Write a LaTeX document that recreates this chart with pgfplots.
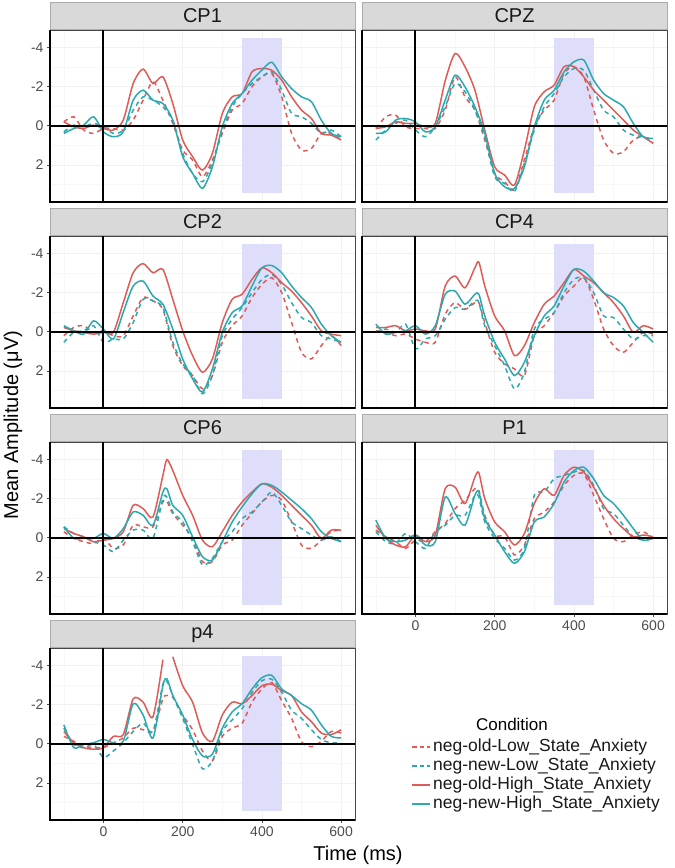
\documentclass[border=0pt]{standalone}
\usepackage{fontspec}
\setmainfont{Liberation Sans}
\usepackage{pgfplots}
\usepackage{pgfplotstable}
\pgfplotsset{compat=1.18}

\definecolor{oldc}{HTML}{DE5B57}
\definecolor{newc}{HTML}{2BA9AE}
\definecolor{win}{HTML}{DEDEFB}
\definecolor{stripc}{HTML}{D9D9D9}
\definecolor{ticklab}{HTML}{4D4D4D}

% columns: t = time (ms); oL/nL = neg-old/new Low state anxiety; oH/nH = High
\pgfplotstableread{
t oL nL oH nH
-100 -0.20 0.31 -0.20 0.39
-75 -0.46 -0.03 0.05 0.14
-50 0.22 0.05 0.14 -0.03
-25 0.39 -0.12 -0.03 -0.46
0 0.14 0.05 0.14 0.31
25 0.14 0.39 0.22 0.56
50 0.22 0.22 -0.29 0.31
75 -0.29 -0.80 -2.16 -1.31
100 -1.31 -1.48 -2.90 -1.82
125 -2.25 -1.31 -2.16 -1.31
150 -1.31 -0.97 -2.50 -1.14
175 -0.12 -0.29 -1.14 -0.29
200 1.24 1.41 0.73 1.58
225 1.75 2.44 1.58 2.44
250 2.61 2.86 2.27 3.20
275 1.75 1.92 1.41 2.10
300 0.39 0.22 -0.63 0.05
325 -0.80 -0.97 -1.48 -1.14
350 -1.14 -1.65 -1.65 -1.65
375 -2.00 -2.16 -2.76 -2.33
400 -2.50 -2.50 -2.93 -2.85
425 -2.67 -2.76 -2.84 -3.25
450 -1.48 -1.82 -2.33 -2.50
475 0.39 -0.63 -1.48 -1.90
500 1.24 -0.46 -0.80 -1.48
525 1.16 -0.12 -0.37 -1.23
550 0.39 0.39 0.39 -0.29
575 0.39 0.22 0.48 0.39
600 0.73 0.56 0.73 0.56
}\cpone

\pgfplotstableread{
t oL nL oH nH
-100 0.14 0.73 0.14 0.39
-75 -0.46 0.22 0.05 0.31
-50 -0.55 -0.12 -0.20 -0.29
-25 0.05 -0.29 -0.12 -0.37
0 0.14 0.22 -0.12 -0.20
25 0.14 0.56 0.05 0.31
50 0.14 0.05 -0.12 0.05
75 -0.80 -0.97 -2.30 -1.31
100 -2.50 -2.16 -3.70 -2.59
125 -1.48 -1.74 -3.02 -1.99
150 -0.80 -0.80 -1.82 -0.97
175 0.73 0.56 0.22 0.39
200 2.44 2.61 2.10 2.44
225 2.86 2.95 2.52 3.12
250 3.29 3.37 3.03 3.20
275 1.75 1.92 1.24 2.10
300 0.05 0.22 -0.97 0.05
325 -0.80 -0.97 -1.74 -1.31
350 -1.31 -1.65 -2.08 -1.82
375 -2.67 -2.50 -3.02 -2.76
400 -3.02 -2.93 -3.02 -3.27
425 -2.50 -2.84 -2.50 -3.36
450 -0.80 -1.82 -1.82 -2.33
475 0.73 -0.80 -1.31 -1.65
500 1.41 -0.46 -0.80 -1.31
525 1.33 0.22 -0.29 -0.97
550 0.73 0.48 0.22 -0.12
575 0.56 0.56 0.56 0.56
600 0.90 0.73 0.90 0.65
}\cpz

\pgfplotstableread{
t oL nL oH nH
-100 0.20 0.54 -0.22 -0.31
-75 -0.22 0.03 -0.05 -0.05
-50 -0.31 -0.05 0.03 0.12
-25 0.03 -0.31 0.12 -0.56
0 -0.05 0.54 0.03 -0.14
25 0.20 0.37 0.03 0.37
50 0.20 0.37 -1.49 -1.00
75 -0.81 -0.47 -3.02 -2.34
100 -1.75 -1.66 -3.49 -2.59
125 -1.58 -1.58 -3.02 -1.83
150 -1.15 -1.24 -3.19 -1.41
175 0.71 0.54 -1.66 -0.14
200 1.73 1.64 -0.05 1.39
225 2.24 2.24 1.22 2.41
250 2.92 3.17 2.07 3.08
275 2.24 2.24 1.39 1.90
300 0.54 0.20 -0.47 0.03
325 -0.31 -0.64 -1.66 -0.98
350 -0.81 -1.24 -1.92 -1.32
375 -1.75 -2.00 -2.68 -2.34
400 -2.42 -2.68 -3.27 -3.27
425 -2.76 -2.93 -3.02 -3.39
450 -2.00 -2.42 -2.51 -3.02
475 -0.47 -1.49 -2.08 -2.34
500 1.05 -0.73 -1.49 -1.75
525 1.39 -0.47 -0.81 -1.24
550 0.71 0.20 -0.05 -0.39
575 0.20 0.37 0.12 0.20
600 0.71 0.54 0.20 0.54
}\cptwo

\pgfplotstableread{
t oL nL oH nH
-100 -0.05 0.03 -0.22 -0.39
-75 0.03 -0.14 -0.22 0.12
-50 0.20 0.03 -0.31 0.03
-25 0.12 -0.39 -0.05 -0.05
0 0.37 0.88 -0.14 -0.31
25 0.54 0.37 -0.05 0.12
50 0.54 0.20 -0.14 -0.31
75 -0.90 -0.64 -2.34 -1.92
100 -1.49 -1.24 -2.85 -2.08
125 -1.15 -1.15 -2.25 -1.41
150 -1.49 -1.58 -3.27 -1.92
160 -1.49 -1.50 -3.56 -1.92
175 -0.47 -0.30 -2.34 -0.81
200 1.05 0.71 -0.81 0.54
225 1.64 1.73 -0.05 1.39
250 1.90 2.92 1.22 2.24
275 2.24 2.07 0.71 1.56
300 0.20 -0.14 -0.47 0.20
325 -0.31 -0.64 -1.41 -0.81
350 -0.98 -0.98 -1.83 -1.32
375 -1.83 -2.00 -2.51 -2.34
400 -2.34 -2.68 -3.19 -3.19
425 -2.76 -2.76 -2.85 -3.10
450 -1.66 -2.00 -2.51 -2.59
475 -0.14 -0.81 -2.00 -2.00
500 0.71 -0.73 -1.49 -1.75
525 1.05 -0.14 -0.81 -1.32
550 0.54 0.37 0.03 -0.47
575 0.03 0.20 -0.31 0.03
600 0.12 0.20 -0.14 0.54
}\cpfour

\pgfplotstableread{
t oL nL oH nH
-100 -0.31 -0.56 -0.47 -0.56
-75 0.03 -0.22 -0.22 0.03
-50 0.20 -0.05 -0.05 0.03
-25 0.29 0.20 0.20 0.03
0 0.03 0.37 0.12 -0.22
25 0.54 0.71 0.03 0.03
50 0.37 0.12 -0.31 -0.47
75 -0.64 -0.39 -1.66 -1.32
100 -0.56 -0.39 -1.49 -1.15
125 -0.56 0.03 -1.07 -0.64
150 -1.83 -2.00 -3.19 -2.34
160 -1.86 -2.08 -4.00 -2.51
175 -1.24 -1.32 -3.44 -1.66
200 -0.64 -0.81 -2.17 -1.15
225 0.03 0.20 -1.15 -0.05
250 1.22 1.39 0.12 0.97
275 1.22 1.05 0.46 1.14
300 0.37 0.20 -0.31 0.20
325 0.12 -0.31 -1.15 -0.81
350 -0.64 -0.98 -1.83 -1.58
375 -1.24 -1.32 -2.34 -2.25
400 -1.83 -1.83 -2.76 -2.76
425 -2.17 -2.34 -2.59 -2.68
450 -1.92 -1.66 -2.17 -2.34
475 -0.81 -0.81 -1.66 -1.92
500 0.37 -0.47 -1.15 -1.49
525 0.54 -0.14 -0.64 -0.98
550 0.12 0.12 0.03 -0.31
575 -0.31 -0.05 -0.39 0.03
600 -0.39 0.20 -0.39 0.20
}\cpsix

\pgfplotstableread{
t oL nL oH nH
-100 -0.39 -0.31 -0.64 -0.90
-75 -0.05 0.20 0.03 0.03
-50 0.20 0.29 0.37 0.20
-25 0.54 -0.22 0.46 0.12
0 0.12 0.20 -0.14 -0.14
25 0.20 0.54 0.20 0.37
50 -0.31 -0.31 -0.14 0.20
75 -0.73 -0.64 -2.51 -2.08
100 -1.49 -1.15 -2.59 -1.24
125 -1.92 -1.15 -1.75 -0.64
150 -2.51 -2.17 -3.10 -2.17
160 -2.42 -2.08 -3.32 -2.34
175 -1.15 -0.81 -2.00 -0.98
200 -0.14 0.03 -0.81 -0.14
225 -0.05 0.54 -0.31 0.71
250 0.88 1.14 0.37 1.31
275 0.37 0.54 -0.22 0.71
300 -0.98 -2.17 -1.75 -0.81
325 -1.32 -2.34 -2.51 -1.07
350 -1.83 -3.02 -2.17 -1.75
375 -2.68 -3.19 -3.19 -2.85
400 -3.19 -3.36 -3.61 -3.44
425 -3.27 -3.44 -3.36 -3.61
450 -2.17 -2.68 -2.59 -3.02
475 -0.98 -1.49 -1.66 -2.17
500 0.03 -1.24 -0.98 -1.75
525 0.20 -0.64 -0.47 -1.15
550 -0.14 -0.05 -0.05 -0.47
575 -0.31 0.12 -0.14 0.12
600 0.03 0.03 -0.05 0.03
}\pone

\pgfplotstableread{
t oL nL oH nH
-100 -0.38 -0.80 -0.63 -0.97
-75 -0.13 0.03 -0.05 0.20
-50 0.12 0.20 0.20 0.03
-25 0.20 0.03 0.28 -0.05
0 0.20 0.70 0.20 -0.22
25 -0.05 0.37 -0.38 -0.05
50 -0.30 -0.05 -0.47 -0.13
75 -0.80 -0.63 -2.30 -2.05
100 -0.72 -1.05 -2.13 -1.47
125 -0.63 -0.63 -1.38 -0.30
150 -2.30 -3.05 -4.30 -2.97
160 -2.47 -3.20 nan -3.33
175 -2.38 -2.47 -4.45 -2.47
200 -1.47 -1.30 -2.97 -1.47
225 -0.72 0.03 -2.13 -0.22
250 0.37 1.28 -0.55 0.62
275 0.87 0.87 -0.13 0.53
300 -0.38 -0.63 -1.47 -0.80
325 -0.80 -1.22 -2.13 -1.63
350 -1.05 -1.80 -2.05 -2.05
375 -2.13 -2.63 -2.47 -2.80
400 -2.80 -3.22 -2.97 -3.38
425 -3.13 -3.30 -3.05 -3.50
450 -2.20 -2.63 -2.72 -2.80
475 -1.30 -1.72 -2.47 -2.47
500 -0.10 -1.30 -1.63 -2.05
525 0.15 -0.72 -1.13 -1.72
550 -0.13 -0.22 -0.55 -0.97
575 -0.63 -0.05 -0.47 -0.38
600 -0.55 -0.05 -0.72 -0.30
}\pfour

\pgfplotsset{
  erp/.style={
    scale only axis, width=305pt, height=172pt,
    anchor=south west, clip=false,
    xmin=-135, xmax=635, ymin=-4.9, ymax=3.9, y dir=reverse,
    unbounded coords=jump,
    xtick={0,200,400,600}, ytick={-4,-2,0,2},
    minor xtick={-100,100,300,500}, minor ytick={-3,-1,1,3},
    xmajorgrids, ymajorgrids, xminorgrids, yminorgrids,
    major grid style={draw=gray!11, line width=0.6pt},
    minor grid style={draw=gray!6, line width=0.4pt},
    axis line style={draw=gray!55!black, line width=0.5pt},
    tick pos=left, tick align=outside,
    major tick length=3pt, minor tick length=0pt,
    tick style={draw=gray!60!black, line width=0.6pt},
    ticklabel style={font=\fontsize{14}{14}\selectfont, text=ticklab},
    xticklabels={}, yticklabels={},
  },
  leftcol/.style={yticklabels={-4,-2,0,2}},
  rightcol/.style={ytick style={draw=none}},
  bottomrow/.style={xticklabels={0,200,400,600}},
  upperrow/.style={xtick style={draw=none}},
  oL/.style={draw=oldc, line width=1.5pt, dash pattern=on 4.5pt off 4pt, mark=none, smooth, tension=0.45},
  nL/.style={draw=newc, line width=1.5pt, dash pattern=on 4.5pt off 4pt, mark=none, smooth, tension=0.45},
  oH/.style={draw=oldc, line width=1.5pt, solid, mark=none, smooth, tension=0.45},
  nH/.style={draw=newc, line width=1.5pt, solid, mark=none, smooth, tension=0.45},
}

% #1 x, #2 y of lower left corner, #3 table, #4 extra axis options
\newcommand{\erppanel}[4]{%
  \begin{axis}[erp, at={(#1pt,#2pt)}, #4]
    \fill[win] (axis cs:350,-4.5) rectangle (axis cs:450,3.45);
    \addplot[oL] table[x=t, y=oL] {#3};
    \addplot[nL] table[x=t, y=nL] {#3};
    \addplot[oH] table[x=t, y=oH] {#3};
    \addplot[nH] table[x=t, y=nH] {#3};
    \draw[black, line width=2pt] (axis cs:-135,0) -- (axis cs:635,0);
    \draw[black, line width=2pt] (axis cs:0,3.9) -- (axis cs:0,-4.9);
    \draw[black, line width=1.5pt] (axis cs:-135,-4.9) -- (axis cs:-135,3.9) -- (axis cs:635,3.9);
  \end{axis}}

% facet strip: #1 x left, #2 y bottom, #3 label
\newcommand{\strip}[3]{%
  \filldraw[fill=stripc, draw=gray!65, line width=0.5pt] (#1pt,#2pt) rectangle ++(305pt,27pt);
  \node[text=black!90, font=\fontsize{20}{20}\selectfont] at (#1pt+152.5pt,#2pt+13.5pt) {#3};}

\begin{document}
\begin{tikzpicture}
  \path[use as bounding box] (0,0) rectangle (675pt,868pt);

  \erppanel{50}{666}{\cpone}{leftcol, upperrow}
  \erppanel{362}{666}{\cpz}{rightcol, upperrow}
  \erppanel{50}{460}{\cptwo}{leftcol, upperrow}
  \erppanel{362}{460}{\cpfour}{rightcol, upperrow}
  \erppanel{50}{254}{\cpsix}{leftcol, upperrow}
  \erppanel{362}{254}{\pone}{rightcol, bottomrow}
  \erppanel{50}{48}{\pfour}{leftcol, bottomrow}

  \strip{50}{839}{CP1}
  \strip{362}{839}{CPZ}
  \strip{50}{633}{CP2}
  \strip{362}{633}{CP4}
  \strip{50}{427}{CP6}
  \strip{362}{427}{P1}
  \strip{50}{221}{p4}

  \node[font=\fontsize{20}{20}\selectfont] at (358pt,13pt) {Time (ms)};
  \node[font=\fontsize{20}{20}\selectfont, rotate=90] at (13pt,443pt) {Mean Amplitude (μV)};

  % legend
  \node[font=\fontsize{17}{17}\selectfont] at (512pt,144pt) {Condition};
  \draw[oldc, line width=1.5pt, dash pattern=on 4.5pt off 3pt] (412pt,121pt) -- (430pt,121pt);
  \draw[newc, line width=1.5pt, dash pattern=on 4.5pt off 3pt] (412pt,102pt) -- (430pt,102pt);
  \draw[oldc, line width=1.5pt] (412pt,83pt) -- (430pt,83pt);
  \draw[newc, line width=1.5pt] (412pt,64pt) -- (430pt,64pt);
  \begin{scope}[every node/.style={anchor=west, inner sep=0pt, font=\fontsize{17.5}{17.5}\selectfont, text=black!90}]
    \node at (433pt,121pt) {neg-old-Low\_State\_Anxiety};
    \node at (433pt,102pt) {neg-new-Low\_State\_Anxiety};
    \node at (433pt,83pt) {neg-old-High\_State\_Anxiety};
    \node at (433pt,64pt) {neg-new-High\_State\_Anxiety};
  \end{scope}
\end{tikzpicture}
\end{document}
